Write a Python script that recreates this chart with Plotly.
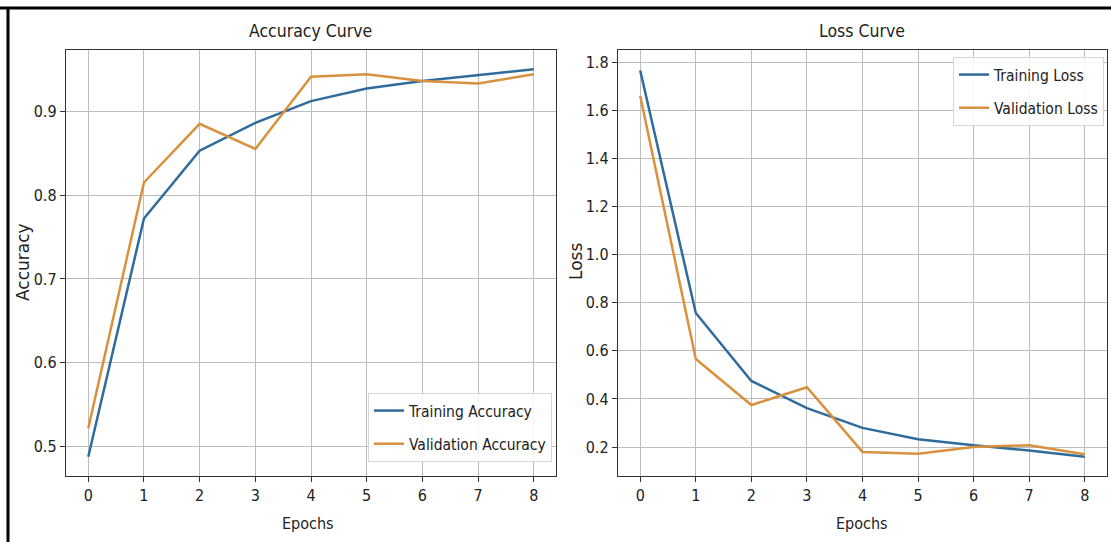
import plotly.graph_objects as go

epochs = [0, 1, 2, 3, 4, 5, 6, 7, 8]
train_acc = [0.488, 0.772, 0.853, 0.886, 0.912, 0.927, 0.936, 0.943, 0.950]
val_acc = [0.522, 0.815, 0.885, 0.855, 0.941, 0.944, 0.936, 0.933, 0.944]
train_loss = [1.765, 0.757, 0.475, 0.362, 0.280, 0.233, 0.208, 0.186, 0.160]
val_loss = [1.659, 0.566, 0.375, 0.449, 0.180, 0.172, 0.200, 0.208, 0.170]

acc_ticks = [0.5, 0.6, 0.7, 0.8, 0.9]
loss_ticks = [0.2, 0.4, 0.6, 0.8, 1.0, 1.2, 1.4, 1.6, 1.8]
loss_ticktext = ["0.2", "0.4", "0.6", "0.8", "1.0", "1.2", "1.4", "1.6", "1.8"]

BLUE = "#2f6c9b"
ORANGE = "#d9913d"
FONT = "DejaVu Sans Condensed, sans-serif"
W, H = 1111, 542

fig = go.Figure()
fig.add_trace(go.Scatter(x=epochs, y=train_acc, mode="lines", name="Training Accuracy",
                         line=dict(color=BLUE, width=2.5), xaxis="x", yaxis="y",
                         legend="legend", legendgroup="a"))
fig.add_trace(go.Scatter(x=epochs, y=val_acc, mode="lines", name="Validation Accuracy",
                         line=dict(color=ORANGE, width=2.5), xaxis="x", yaxis="y",
                         legend="legend", legendgroup="b"))
fig.add_trace(go.Scatter(x=epochs, y=train_loss, mode="lines", name="Training Loss",
                         line=dict(color=BLUE, width=2.5), xaxis="x2", yaxis="y2",
                         legend="legend2", legendgroup="c"))
fig.add_trace(go.Scatter(x=epochs, y=val_loss, mode="lines", name="Validation Loss",
                         line=dict(color=ORANGE, width=2.5), xaxis="x2", yaxis="y2",
                         legend="legend2", legendgroup="d"))

def px(x):
    return x / W

def py(y):
    return 1 - y / H

ydom = [py(476), py(50)]
axis_common = dict(showline=True, linecolor="#333333", linewidth=1.4, mirror=True,
                   showgrid=True, gridcolor="#bdbdbd", gridwidth=1, automargin=False,
                   ticks="outside", ticklen=5, tickcolor="#333333",
                   tickfont=dict(family=FONT, size=16, color="#222222"), zeroline=False)

legend_common = dict(bgcolor="rgba(255,255,255,0.85)", bordercolor="#d6d6d6", borderwidth=1,
                     font=dict(family=FONT, size=15.5, color="#222222"),
                     traceorder="grouped", tracegroupgap=10, itemwidth=30)

fig.update_layout(
    width=W, height=H, margin=dict(l=0, r=0, t=0, b=0, autoexpand=False),
    paper_bgcolor="white", plot_bgcolor="white", showlegend=True,
    xaxis=dict(domain=[px(66), px(556)], range=[-0.4, 8.4], tickvals=epochs, anchor="y", **axis_common),
    yaxis=dict(domain=ydom, range=[0.465, 0.973], tickvals=acc_ticks, anchor="x", **axis_common),
    xaxis2=dict(domain=[px(618), px(1107)], range=[-0.4, 8.4], tickvals=epochs, anchor="y2", **axis_common),
    yaxis2=dict(domain=ydom, range=[0.08, 1.85], tickvals=loss_ticks, ticktext=loss_ticktext,
                anchor="x2", **axis_common),
    legend=dict(x=px(552), y=py(462), xanchor="right", yanchor="bottom", **legend_common),
    legend2=dict(x=px(1104), y=py(57), xanchor="right", yanchor="top", **legend_common),
)

annos = [
    dict(text="Accuracy Curve", x=px(310), y=py(31), size=17.5),
    dict(text="Loss Curve", x=px(862), y=py(31), size=17.5),
    dict(text="Epochs", x=px(308), y=py(523), size=16),
    dict(text="Epochs", x=px(862), y=py(523), size=16),
]
for a in annos:
    fig.add_annotation(text=a["text"], x=a["x"], y=a["y"], xref="paper", yref="paper",
                       showarrow=False, xanchor="center", yanchor="middle",
                       font=dict(family=FONT, size=a["size"], color="#222222"))
fig.add_annotation(text="Accuracy", x=px(23), y=py(262), xref="paper", yref="paper", showarrow=False,
                   textangle=-90, xanchor="center", yanchor="middle",
                   font=dict(family="DejaVu Sans", size=17, color="#222222"))
fig.add_annotation(text="Loss", x=px(576), y=py(262), xref="paper", yref="paper", showarrow=False,
                   textangle=-90, xanchor="center", yanchor="middle",
                   font=dict(family="DejaVu Sans", size=17, color="#222222"))

# outer frame (top and left edges of the screenshot)
fig.add_shape(type="line", xref="paper", yref="paper", x0=0, x1=1, y0=py(8), y1=py(8),
              line=dict(color="black", width=3))
fig.add_shape(type="line", xref="paper", yref="paper", x0=px(8), x1=px(8), y0=0, y1=py(8),
              line=dict(color="black", width=3))

fig.write_html("out.html", config={"displayModeBar": False},
               post_script="document.body.style.margin='0';document.body.style.overflow='hidden';")
